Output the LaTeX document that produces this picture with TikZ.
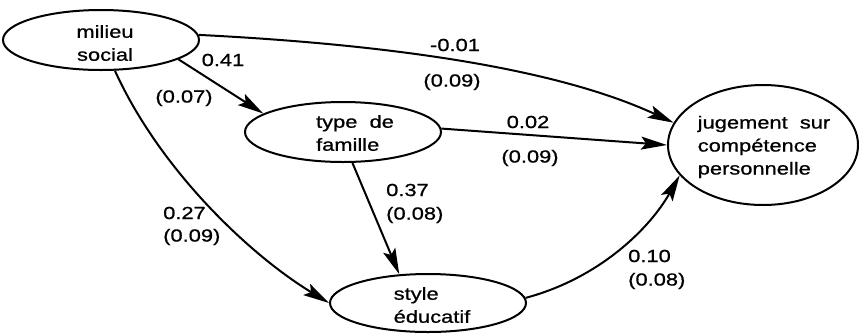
\documentclass[tikz,border=0pt]{standalone}
\usepackage{fontspec}
\setmainfont[FakeStretch=1.25,FakeBold=0.8]{Liberation Sans}
\usetikzlibrary{shapes.geometric,arrows.meta}
\tikzset{
  ell/.style={draw, ellipse, line width=2pt, inner sep=0pt},
  txt/.style={font=\fontsize{17.5}{23}\selectfont, inner sep=0pt},
  lbl/.style={font=\fontsize{17.5}{23}\selectfont, inner sep=0pt},
  arr/.style={line width=2pt, -{Stealth[length=26pt,width=13pt,inset=5pt]}},
}
\begin{document}
\begin{tikzpicture}[x=1pt,y=-1pt]
\useasboundingbox (0,0) rectangle (859,333);
% ellipses
\node[ell, minimum width=196pt, minimum height=60pt] (ms) at (101,40) {};
\node[ell, minimum width=196pt, minimum height=60pt] (tf) at (343,132) {};
\node[ell, minimum width=196pt, minimum height=58pt] (se) at (428,303) {};
\node[ell, minimum width=190pt, minimum height=120pt] (jug) at (763,145) {};
% texts
\node[txt, align=center] (mst) at (105,43) {milieu\\social};
\node[txt, align=left] (tft) at (355,133) {type\ \ de\\famille};
\node[txt, align=left] (set) at (432,305) {style\\éducatif};
\node[txt, align=left] (jugt) at (764,147) {jugement\ \ sur\\compétence\\personnelle};
% connectors
\draw[arr] (ms.3) .. controls (400,45) and (560,70) .. (jug.166);
\draw[arr] (ms.-14) -- (tf.167);
\draw[arr] (tf.2) -- (jug.west);
\draw[arr] (tf.-73) -- (se.135);
\draw[arr] (ms) .. controls (160,170) and (250,255) .. (se.180);
\draw[arr] (se.3) .. controls (600,278) and (650,228) .. (jug.200);
% labels
\node[lbl] (l1a) at (455,45) {-0.01};
\node[lbl] (l1b) at (452,82) {(0.09)};
\node[lbl] (l2a) at (223,60) {0.41};
\node[lbl] (l2b) at (184,98) {(0.07)};
\node[lbl] (l3a) at (528,122) {0.02};
\node[lbl] (l3b) at (530,158) {(0.09)};
\node[lbl, anchor=west] (l4a) at (386,190) {0.37};
\node[lbl, anchor=west] (l4b) at (386,215) {(0.08)};
\node[lbl, anchor=west] (l5a) at (163,213) {0.27};
\node[lbl, anchor=west] (l5b) at (163,237) {(0.09)};
\node[lbl, anchor=west] (l6a) at (628,256) {0.10};
\node[lbl, anchor=west] (l6b) at (628,281) {(0.08)};
\end{tikzpicture}
\end{document}
